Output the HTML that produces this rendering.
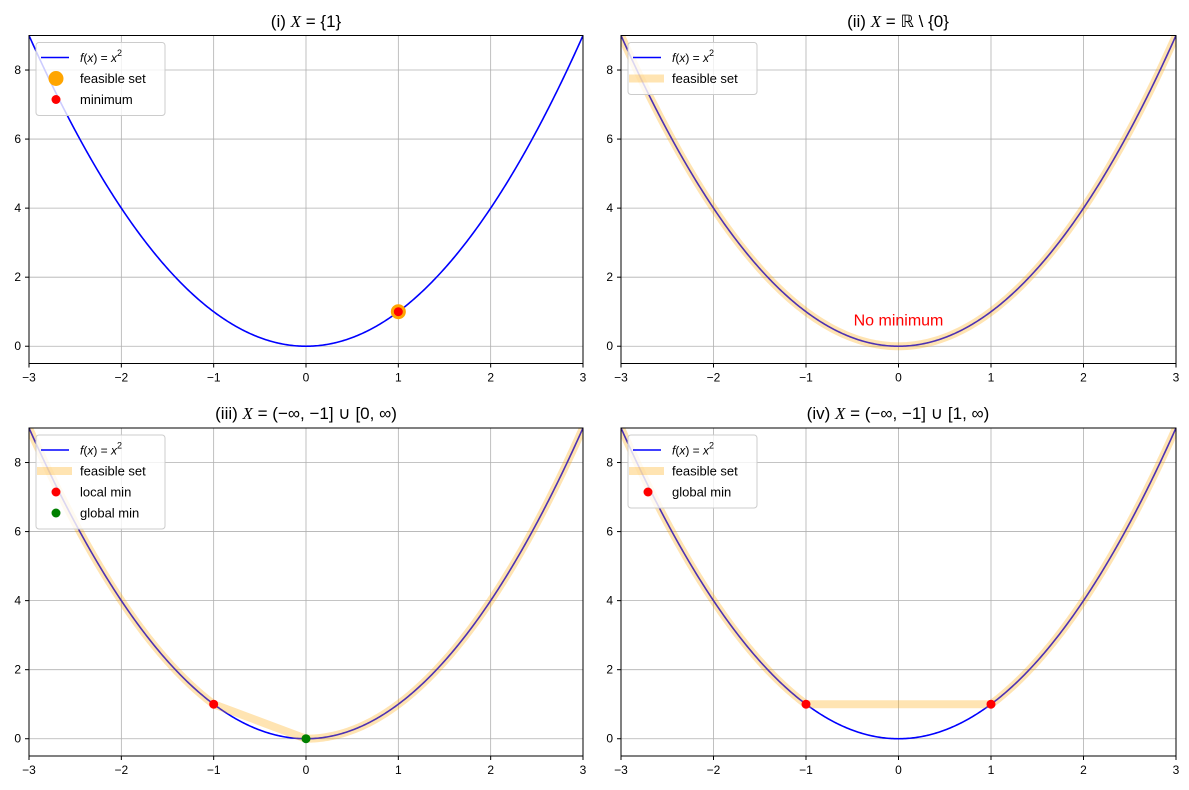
<!DOCTYPE html>
<html><head><meta charset="utf-8">
<style>
html,body{margin:0;padding:0;background:#fff;}
svg{display:block;font-family:"Liberation Sans","DejaVu Sans",sans-serif;}
</style></head>
<body>
<svg id="fig" width="1189" height="790" viewBox="0 0 1189 790" xmlns="http://www.w3.org/2000/svg"></svg>
<script>
// ---- data ----
const xTicks = [-3,-2,-1,0,1,2,3];
const yTicks = [0,2,4,6,8];
const xDomain = [-3,3];
const yDomain = [-0.5,9];
const titles = ["(i) ", "(ii) ", "(iii) ", "(iv) "];
const titleMath = ["= {1}", "= \u211D \\ {0}", "= (\u2212\u221E, \u22121] \u222A [0, \u221E)", "= (\u2212\u221E, \u22121] \u222A [1, \u221E)"];
// feasible set polylines (x values, y computed from f) per panel; null = none
const feasible2 = [-3, 3];
const feasible3a = [-3, -1];
const feasible3b = [0, 3];
const feasible4a = [-3, -1];
const feasible4b = [1, 3];
const point1X = [1];
const point1Y = [1];
const localMinX = [-1];
const localMinY = [1];
const globalMin3X = [0];
const globalMin3Y = [0];
const globalMin4X = [-1, 1];
const globalMin4Y = [1, 1];

const svg = document.getElementById('fig');
const NS = 'http://www.w3.org/2000/svg';
function mk(tag, attrs, parent){const e=document.createElementNS(NS,tag);for(const k in attrs)e.setAttribute(k,attrs[k]);(parent||svg).appendChild(e);return e;}
const f = x => x*x;

const panels = [
  {x0:29,x1:583,y0:35.5,y1:363.5,tx:306,ty:27},
  {x0:621,x1:1176,y0:35.5,y1:363.5,tx:898,ty:27},
  {x0:29,x1:583,y0:428,y1:756,tx:306,ty:419},
  {x0:621,x1:1176,y0:428,y1:756,tx:898,ty:419}
];

function axes(p){
  const sx = v => p.x0 + (v-xDomain[0])/(xDomain[1]-xDomain[0])*(p.x1-p.x0);
  const sy = v => p.y1 - (v-yDomain[0])/(yDomain[1]-yDomain[0])*(p.y1-p.y0);
  return {sx,sy};
}

function curvePath(sx,sy,xa,xb,n){
  let d='';
  for(let i=0;i<=n;i++){const x=xa+(xb-xa)*i/n;d+=(i?'L':'M')+sx(x).toFixed(2)+','+sy(f(x)).toFixed(2);}
  return d;
}
function feasiblePath(sx,sy,segs){
  let d='';
  segs.forEach((s,j)=>{for(let i=0;i<=200;i++){const x=s[0]+(s[1]-s[0])*i/200;d+=((i||j)?'L':'M')+sx(x).toFixed(2)+','+sy(f(x)).toFixed(2);}});
  return d;
}

panels.forEach((p,idx)=>{
  const g = mk('g',{});
  
  
  const {sx,sy} = axes(p);
  const clipId='clip'+idx;
  const cp=mk('clipPath',{id:clipId},g);
  mk('rect',{x:p.x0,y:p.y0,width:p.x1-p.x0,height:p.y1-p.y0},cp);
  // grid
  xTicks.forEach(t=>{const l=mk('line',{x1:sx(t),x2:sx(t),y1:p.y0,y2:p.y1,stroke:'#b0b0b0','stroke-width':0.8},g);
    });
  yTicks.forEach(t=>{const l=mk('line',{x1:p.x0,x2:p.x1,y1:sy(t),y2:sy(t),stroke:'#b0b0b0','stroke-width':0.8},g);
    });
  const pg = mk('g',{'clip-path':'url(#'+clipId+')'},g);
  // curve
  const c = mk('path',{d:curvePath(sx,sy,-3,3,400),fill:'none',stroke:'#0000ff','stroke-width':1.6},pg);
  
  
  let segs=null;
  if(idx===1) segs=[feasible2];
  if(idx===2) segs=[feasible3a,feasible3b];
  if(idx===3) segs=[feasible4a,feasible4b];
  if(segs){
    const b=mk('path',{d:feasiblePath(sx,sy,segs),fill:'none',stroke:'#ffa500','stroke-opacity':0.3,'stroke-width':8,'stroke-linejoin':'round'},pg);
    
    
  }
  function pts(xs,ys,r,col,name){xs.forEach((x,i)=>{const e=mk('circle',{cx:sx(x),cy:sy(ys[i]),r:r,fill:col},g);
    });}
  if(idx===0){pts(point1X,point1Y,7.5,'#ffa500','feasible-point');pts(point1X,point1Y,4.5,'#ff0000','minimum-point');}
  if(idx===2){pts(localMinX,localMinY,4.5,'#ff0000','local-min-point');pts(globalMin3X,globalMin3Y,4.5,'#008000','global-min-point');}
  if(idx===3){pts(globalMin4X,globalMin4Y,4.5,'#ff0000','global-min-point');}
  if(idx===1){const t=mk('text',{x:sx(0),y:sy(0.6),'text-anchor':'middle','font-size':16,fill:'#ff0000'},g);t.textContent='No minimum';
    }
  // frame
  const fr=mk('rect',{x:p.x0,y:p.y0,width:p.x1-p.x0,height:p.y1-p.y0,fill:'none',stroke:'#000','stroke-width':1},g);
  
  // ticks
  xTicks.forEach(t=>{mk('line',{x1:sx(t),x2:sx(t),y1:p.y1,y2:p.y1+4,stroke:'#000'},g);
    const tx=mk('text',{x:sx(t),y:p.y1+18,'text-anchor':'middle','font-size':12},g);tx.textContent=(t<0?'\u2212'+(-t):t);
    });
  yTicks.forEach(t=>{mk('line',{x1:p.x0-4,x2:p.x0,y1:sy(t),y2:sy(t),stroke:'#000'},g);
    const tx=mk('text',{x:p.x0-8,y:sy(t)+4,'text-anchor':'end','font-size':12},g);tx.textContent=t;
    });
  // title
  const tt=mk('text',{x:p.tx,y:p.ty,'text-anchor':'middle','font-size':17},g);
  
  const s1=mk('tspan',{},tt);s1.textContent=titles[idx];
  const s2=mk('tspan',{'font-style':'italic','font-family':'Liberation Serif, serif'},tt);s2.textContent='X';
  const s3=mk('tspan',{},tt);s3.textContent=' '+titleMath[idx];
  // legend
  let entries=[['line','#0000ff','f(x) = x\u00B2']];
  if(idx===0) entries.push(['bigdot','#ffa500','feasible set'],['dot','#ff0000','minimum']);
  if(idx===1) entries.push(['band','#ffa500','feasible set']);
  if(idx===2) entries.push(['band','#ffa500','feasible set'],['dot','#ff0000','local min'],['dot','#008000','global min']);
  if(idx===3) entries.push(['band','#ffa500','feasible set'],['dot','#ff0000','global min']);
  const lx=p.x0+7, ly=p.y0+7, lh=10+entries.length*21;
  const lg=mk('g',{},g);
  
  mk('rect',{x:lx,y:ly,width:129,height:lh,rx:3,fill:'#fff','fill-opacity':0.8,stroke:'#cccccc'},lg);
  entries.forEach((e,i)=>{
    const yy=ly+15+i*21;
    const eg=mk('g',{},lg);
    
    if(e[0]==='line') mk('line',{x1:lx+5,x2:lx+33,y1:yy,y2:yy,stroke:e[1],'stroke-width':1.6},eg);
    if(e[0]==='band') mk('line',{x1:lx+1,x2:lx+36,y1:yy,y2:yy,stroke:e[1],'stroke-opacity':0.3,'stroke-width':8},eg);
    if(e[0]==='bigdot') mk('circle',{cx:lx+20,cy:yy,r:7.5,fill:e[1]},eg);
    if(e[0]==='dot') mk('circle',{cx:lx+20,cy:yy,r:4.5,fill:e[1]},eg);
    const t=mk('text',{x:lx+44,y:yy+4.5,'font-size':13},eg);
    if(i===0){t.innerHTML='<tspan font-style="italic">f</tspan>(<tspan font-style="italic">x</tspan>) = <tspan font-style="italic">x</tspan><tspan font-size="9" dy="-6">2</tspan>';t.setAttribute('font-size','12');}
    else t.textContent=e[2];
  });
});
</script>
</body></html>
